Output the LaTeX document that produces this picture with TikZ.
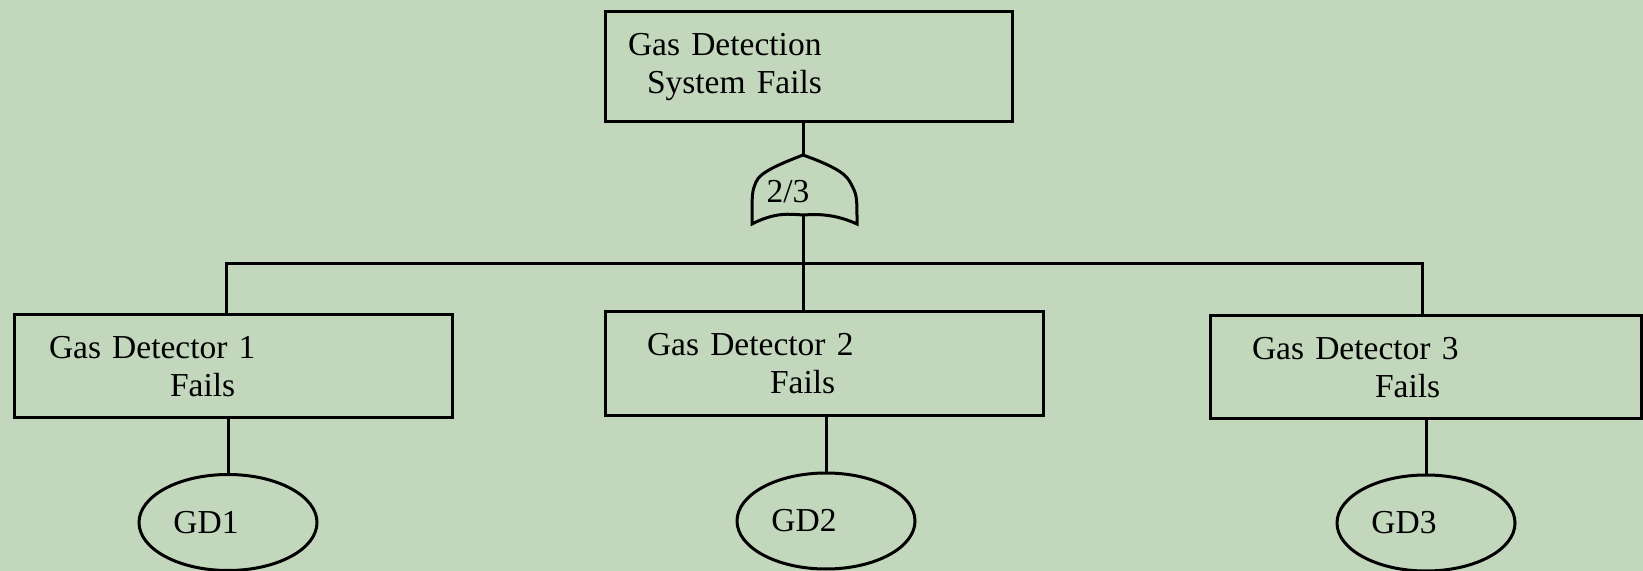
\documentclass[tikz,border=0pt]{standalone}
\usepackage{fontspec}
\setmainfont{Liberation Serif}
\usetikzlibrary{shapes,positioning}
\definecolor{bgcol}{RGB}{195,215,188}

\begin{document}
\begin{tikzpicture}[x=0.5pt, y=-0.5pt, line width=1.5pt, every node/.style={font=\fontsize{16.75pt}{19pt}\selectfont}, evbox/.style={draw, rectangle, align=left, inner ysep=0pt}, basic/.style={draw, ellipse, minimum width=89pt, minimum height=48pt, inner sep=0pt}]
				\useasboundingbox (0,0) rectangle (1643,571);
				\fill[bgcol] (0,0) rectangle (1643,571);
				\node[evbox, text width=180.5pt, inner xsep=11.5pt, minimum height=55pt] (top) at (808.5,67) {Gas Detection\\\hspace*{9.5pt}System Fails};
				\node[inner sep=0pt] (gate) at (788,192) {2/3};
				\coordinate (gin) at (803,155);
				\coordinate (gout) at (803,215);
				\coordinate (bus) at (803,264);
				\node[evbox, text width=184pt, inner xsep=17.5pt, minimum height=51.5pt] (box1) at (233,366.5) {Gas Detector 1\\\hspace*{60.5pt}Fails};
				\node[evbox, text width=177pt, inner xsep=21pt, minimum height=52pt] (box2) at (824,364) {Gas Detector 2\\\hspace*{61.5pt}Fails};
				\node[evbox, text width=173.5pt, inner xsep=21pt, minimum height=51.5pt] (box3) at (1425.5,367.5) {Gas Detector 3\\\hspace*{61.5pt}Fails};
				\node[basic] (gd1) at (228,522.5) {GD1\hspace*{22pt}};
				\node[basic] (gd2) at (826,521) {GD2\hspace*{22pt}};
				\node[basic] (gd3) at (1426,523) {GD3\hspace*{22pt}};
				\draw (gin) .. controls (780,164) and (760,172) .. (756,182) .. controls (752,192) .. (752,224) .. controls (775,212) and (790,214) .. (gout) .. controls (818,214) and (835,214) .. (857,224) .. controls (857,195) .. (850,182) .. controls (845,172) and (828,164) .. (gin) -- cycle;
				\draw (gin) -- (gin |- top.south);
				\draw (gout) -- (gout |- box2.north);
				\draw ([xshift=-3.5pt]box1.north) |- (bus) -| ([xshift=-1.75pt]box3.north);
				\draw (gd1.north) -- (gd1.north |- box1.south);
				\draw (gd2.north) -- (gd2.north |- box2.south);
				\draw (gd3.north) -- (gd3.north |- box3.south);
			\end{tikzpicture}
\end{document}
